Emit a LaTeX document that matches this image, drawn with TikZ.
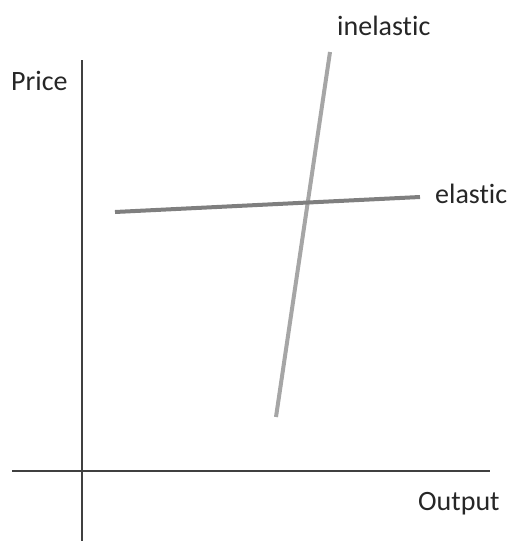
\documentclass[tikz,border=0pt]{standalone}
\usepackage{fontspec}
\setmainfont[Ligatures={NoCommon,NoContextual}]{Carlito}
\usetikzlibrary{positioning,calc}
\definecolor{axisgray}{RGB}{64,64,64}
\definecolor{elasticgray}{RGB}{127,127,127}
\definecolor{inelasticgray}{RGB}{166,166,166}
\tikzset{
  axisline/.style={axisgray,line width=1.6pt},
  curveline/.style={line width=4pt},
  curvelabel/.style={font=\fontsize{28}{34}\selectfont,text=black!85,inner sep=0pt,anchor=base west}
}
\begin{document}
\begin{tikzpicture}[x=1pt,y=-1pt]
\useasboundingbox (0,0) rectangle (514,541);
\coordinate (ytop) at (82,60);
\coordinate (ybot) at (82,541);
\coordinate (xleft) at (12,471);
\coordinate (xright) at (490,471);
\coordinate (E1) at (115,212);
\coordinate (E2) at (420,197);
\coordinate (I1) at (276,417);
\coordinate (I2) at (330,52);
\draw[axisline] (ytop) -- (ybot);
\draw[axisline] (xleft) -- (xright);
\draw[curveline,inelasticgray] (I1) -- (I2);
\draw[curveline,elasticgray] (E1) -- (E2);
\node[curvelabel] (price) at (11,90) {Price};
\node[curvelabel] (output) at (418,510) {Output};
\node[curvelabel] (inel) at (337,35) {inelastic};
\node[curvelabel] (el) at (435,203) {elastic};
\end{tikzpicture}
\end{document}
